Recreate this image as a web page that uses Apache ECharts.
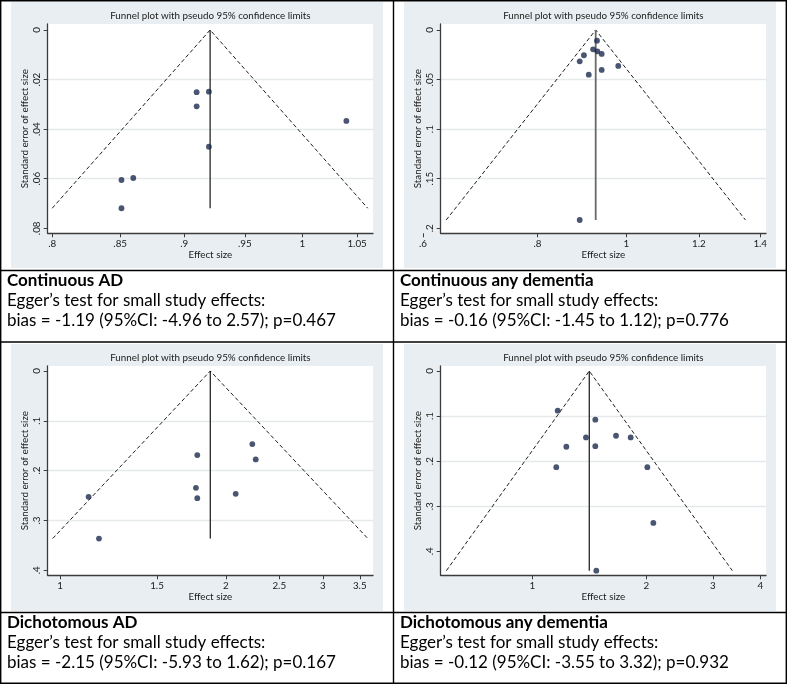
<!DOCTYPE html>
<html><head><meta charset="utf-8">
<script src="https://cdn.jsdelivr.net/npm/echarts@6/dist/echarts.min.js"></script>
<style>html,body{margin:0;padding:0;background:#fff}#c{width:787px;height:684px}</style>
</head><body><div id="c"></div>
<script>
// ---------- DATA ----------
const plotTitle = 'Funnel plot with pseudo 95% confidence limits';
const xName = 'Effect size';
const yName = 'Standard error of effect size';

const blockTitles = ['Continuous AD', 'Continuous any dementia', 'Dichotomous AD', 'Dichotomous any dementia'];
const eggerHeader = 'Egger\u2019s test for small study effects:';
const eggerResults = [
  'bias = -1.19 (95%CI: -4.96 to 2.57); p=0.467',
  'bias = -0.16 (95%CI: -1.45 to 1.12); p=0.776',
  'bias = -2.15 (95%CI: -5.93 to 1.62); p=0.167',
  'bias = -0.12 (95%CI: -3.55 to 3.32); p=0.932'
];

// Panel 1: Continuous AD
const cadEffect = [0.910, 0.920, 0.910, 1.040, 0.920, 0.851, 0.860, 0.851];
const cadSE     = [0.0251, 0.0249, 0.0308, 0.0367, 0.0471, 0.0605, 0.0597, 0.0719];
const cadPooled = 0.921, cadLow = 0.800, cadHigh = 1.060, cadMaxSE = 0.0719;
const cadXTicks = [0.8, 0.85, 0.9, 0.95, 1, 1.05];
const cadXLabels = ['.8', '.85', '.9', '.95', '1', '1.05'];
const cadYTicks = [0, 0.02, 0.04, 0.06, 0.08];
const cadYLabels = ['0', '.02', '.04', '.06', '.08'];

// Panel 2: Continuous any dementia
const cdemEffect = [0.929, 0.920, 0.930, 0.940, 0.899, 0.8895, 0.980, 0.940, 0.910, 0.8895];
const cdemSE     = [0.0108, 0.0195, 0.0215, 0.0242, 0.0255, 0.0316, 0.0363, 0.0403, 0.0451, 0.1916];
const cdemPooled = 0.926, cdemLow = 0.636, cdemHigh = 1.349, cdemMaxSE = 0.1916;
const cdemXTicks = [0.6, 0.8, 1, 1.2, 1.4];
const cdemXLabels = ['.6', '.8', '1', '1.2', '1.4'];
const cdemYTicks = [0, 0.05, 0.1, 0.15, 0.2];
const cdemYLabels = ['0', '.05', '.1', '.15', '.2'];

// Panel 3: Dichotomous AD
const dadEffect = [1.127, 1.177, 1.775, 1.765, 1.775, 2.084, 2.234, 2.266];
const dadSE     = [0.2526, 0.3363, 0.1688, 0.2345, 0.2553, 0.2466, 0.1467, 0.1776];
const dadPooled = 1.874, dadLow = 0.970, dadHigh = 3.620, dadMaxSE = 0.3363;
const dadXTicks = [1, 1.5, 2, 2.5, 3, 3.5];
const dadXLabels = ['1', '1.5', '2', '2.5', '3', '3.5'];
const dadYTicks = [0, 0.1, 0.2, 0.3, 0.4];
const dadYLabels = ['0', '.1', '.2', '.3', '.4'];

// Panel 4: Dichotomous any dementia
const ddemEffect = [1.167, 1.467, 1.386, 1.664, 1.819, 1.230, 1.467, 1.157, 2.013, 2.088, 1.476];
const ddemSE     = [0.0881, 0.1081, 0.1474, 0.1437, 0.1474, 0.1681, 0.1667, 0.2133, 0.2133, 0.3370, 0.4430];
const ddemPooled = 1.414, ddemLow = 0.593, ddemHigh = 3.375, ddemMaxSE = 0.443;
const ddemXTicks = [1, 2, 3, 4];
const ddemXLabels = ['1', '2', '3', '4'];
const ddemYTicks = [0, 0.1, 0.2, 0.3, 0.4];
const ddemYLabels = ['0', '.1', '.2', '.3', '.4'];

// ---------- LAYOUT ----------
const ln = Math.log;
const PW = 325.3, PH = 209.3;
const panels = [
  {eff: cadEffect, se: cadSE, pooled: cadPooled, low: cadLow, high: cadHigh, maxSE: cadMaxSE,
   xt: cadXTicks, xl: cadXLabels, yt: cadYTicks, yl: cadYLabels,
   xr: [0.7968, 1.065], yr: [-0.0024, 0.0820], left: 47.7, top: 24},
  {eff: cdemEffect, se: cdemSE, pooled: cdemPooled, low: cdemLow, high: cdemHigh, maxSE: cdemMaxSE,
   xt: cdemXTicks, xl: cdemXLabels, yt: cdemYTicks, yl: cdemYLabels,
   xr: [0.6273, 1.4205], yr: [-0.0060, 0.2050], left: 440.7, top: 24,
   tickGrid: {left: 413, width: 353, xr: [0.5851, 1.4205]}},
  {eff: dadEffect, se: dadSE, pooled: dadPooled, low: dadLow, high: dadHigh, maxSE: dadMaxSE,
   xt: dadXTicks, xl: dadXLabels, yt: dadYTicks, yl: dadYLabels,
   xr: [0.950, 3.699], yr: [-0.0100, 0.4101], left: 47.7, top: 366},
  {eff: ddemEffect, se: ddemSE, pooled: ddemPooled, low: ddemLow, high: ddemHigh, maxSE: ddemMaxSE,
   xt: ddemXTicks, xl: ddemXLabels, yt: ddemYTicks, yl: ddemYLabels,
   xr: [0.5728, 4.143], yr: [-0.0111, 0.4533], left: 440.7, top: 366}
];

const FONT = 'Lato, "Liberation Sans", sans-serif';
const AX = '#3c3c3c';
const FS = 9.8;
function fmtFrom(vals, labels) {
  return function (v) {
    let best = 0, d = Infinity;
    vals.forEach((t, i) => { const dd = Math.abs(t - v); if (dd < d) { d = dd; best = i; } });
    return labels[best];
  };
}

const grids = [], xAxes = [], yAxes = [], series = [], titles = [];
panels.forEach((p, i) => {
  const gi = grids.length;
  grids.push({left: p.left, top: p.top, width: PW, height: PH, show: true, backgroundColor: '#ffffff', borderWidth: 0});
  const xlog = p.xt.map(ln);
  const ylab = {fontSize: FS, fontFamily: FONT, color: '#1a1a1a'};
  xAxes.push({
    gridIndex: gi, type: 'value', min: ln(p.xr[0]), max: ln(p.xr[1]),
    axisLine: {show: true, onZero: false, lineStyle: {color: AX, width: 1.3}},
    axisTick: {show: !p.tickGrid, customValues: xlog, length: 4, lineStyle: {color: AX, width: 1}},
    axisLabel: {show: !p.tickGrid, customValues: xlog, formatter: fmtFrom(xlog, p.xl), margin: 6, ...ylab},
    splitLine: {show: false},
    name: xName, nameLocation: 'middle', nameGap: 17,
    nameTextStyle: {fontSize: FS, fontFamily: FONT, color: '#1a1a1a'}
  });
  yAxes.push({
    gridIndex: gi, type: 'value', inverse: true, min: p.yr[0], max: p.yr[1],
    axisLine: {show: true, onZero: false, lineStyle: {color: AX, width: 1.3}},
    axisTick: {show: true, customValues: p.yt, length: 4, lineStyle: {color: AX, width: 1}},
    axisLabel: {customValues: p.yt, formatter: fmtFrom(p.yt, p.yl), rotate: 90, margin: 6, ...ylab},
    splitLine: {show: true, showMinLine: false, showMaxLine: false, lineStyle: {color: '#e6e9eb', width: 1.4}},
    name: yName, nameLocation: 'middle', nameGap: 18, nameRotate: 90,
    nameTextStyle: {fontSize: FS, fontFamily: FONT, color: '#1a1a1a'}
  });
  const xi = xAxes.length - 1, yi = yAxes.length - 1;
  titles.push({text: plotTitle, left: p.left + PW / 2, top: p.top - 13.5, textAlign: 'center', padding: 0,
    textStyle: {fontSize: FS, fontWeight: 'normal', fontFamily: FONT, color: '#1a1a1a'}});
  // funnel limits
  series.push({type: 'line', xAxisIndex: xi, yAxisIndex: yi, symbol: 'none', silent: true, z: 2,
    data: [[ln(p.low), p.maxSE], [ln(p.pooled), 0], [ln(p.high), p.maxSE]],
    lineStyle: {color: '#1e1e1e', width: 1, type: [4, 2.5]}});
  // pooled estimate line
  series.push({type: 'line', xAxisIndex: xi, yAxisIndex: yi, symbol: 'none', silent: true, z: 2,
    data: [[ln(p.pooled), 0], [ln(p.pooled), p.maxSE]],
    lineStyle: {color: i === 1 ? '#6a6a6a' : '#141414', width: i === 1 ? 1.8 : 1.2}});
  // studies
  series.push({type: 'scatter', xAxisIndex: xi, yAxisIndex: yi, symbol: 'circle', symbolSize: 5.8, z: 3,
    data: p.eff.map((e, k) => [ln(e), p.se[k]]),
    itemStyle: {color: '#1b2a4e'}});
  if (p.tickGrid) {
    const tg = grids.length;
    grids.push({left: p.tickGrid.left, top: p.top, width: p.tickGrid.width, height: PH, show: false});
    xAxes.push({
      gridIndex: tg, type: 'value', min: ln(p.tickGrid.xr[0]), max: ln(p.tickGrid.xr[1]),
      axisLine: {show: false, onZero: false},
      axisTick: {show: true, customValues: xlog, length: 4, lineStyle: {color: AX, width: 1}},
      axisLabel: {customValues: xlog, formatter: fmtFrom(xlog, p.xl), margin: 6, ...ylab},
      splitLine: {show: false}
    });
    yAxes.push({gridIndex: tg, type: 'value', show: false, min: 0, max: 1, splitLine: {show: false}});
  }
});

// panel backgrounds, table borders and text blocks
const bg = '#e8eef1';
const graphics = [];
[[11, 2, 372, 266], [404, 2, 372, 266], [11, 344, 372, 267], [404, 344, 372, 267]].forEach(r => {
  graphics.push({type: 'rect', z: -10, silent: true, shape: {x: r[0], y: r[1], width: r[2], height: r[3]}, style: {fill: bg}});
});
const L = (x1, y1, x2, y2) => graphics.push({type: 'line', z: 10, silent: true,
  shape: {x1, y1, x2, y2}, style: {stroke: '#000', lineWidth: 1.4}});
L(0, 0.7, 787, 0.7); L(0, 683.3, 787, 683.3); L(0.7, 0, 0.7, 684); L(786.3, 0, 786.3, 684);
L(393.5, 0, 393.5, 684); L(0, 270.5, 787, 270.5); L(0, 342, 787, 342); L(0, 612.5, 787, 612.5);

const textRows = [[281, 301, 321], [281, 301, 321], [623, 643, 663], [623, 643, 663]];
const textX = [7, 400, 7, 400];
blockTitles.forEach((t, i) => {
  const rows = textRows[i];
  const mk = (txt, y, bold) => graphics.push({type: 'text', z: 10, silent: true, x: textX[i], y: y,
    style: {text: txt, fill: '#000', font: (bold ? 'bold ' : '') + '17px ' + FONT, verticalAlign: 'middle', align: 'left'}});
  mk(t, rows[0], true);
  mk(eggerHeader, rows[1], false);
  mk(eggerResults[i], rows[2], false);
});

const chart = echarts.init(document.getElementById('c'), null, {renderer: 'canvas'});
chart.setOption({
  animation: false,
  backgroundColor: '#ffffff',
  title: titles,
  grid: grids,
  xAxis: xAxes,
  yAxis: yAxes,
  series: series,
  graphic: graphics
});
</script></body></html>
